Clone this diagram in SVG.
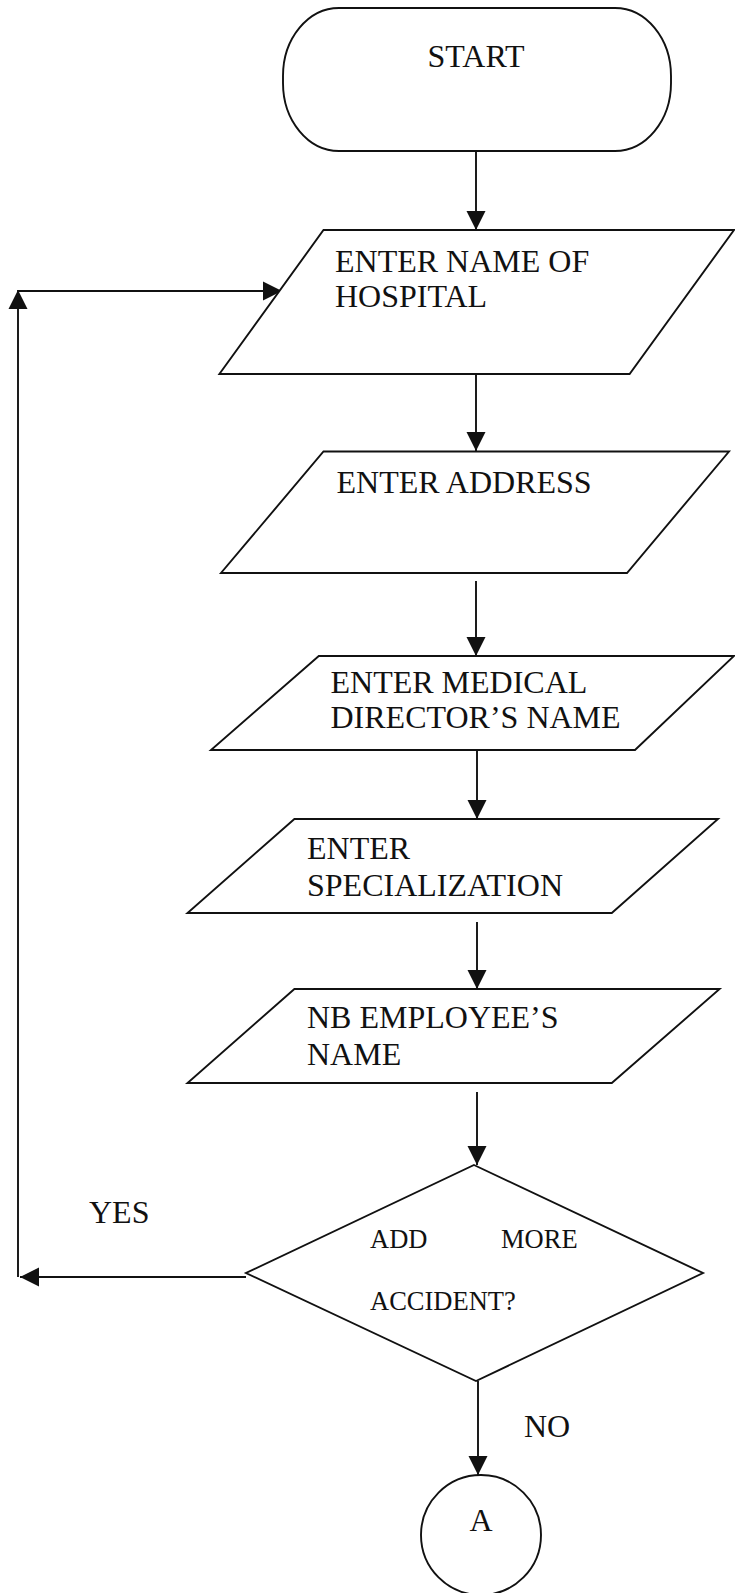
<svg xmlns="http://www.w3.org/2000/svg" width="735" height="1593" viewBox="0 0 735 1593">
<style>
.shape{fill:#fff;stroke:#111;stroke-width:1.9}
.conn{fill:none;stroke:#111;stroke-width:1.9}
.t{font-family:"Liberation Serif","Times New Roman",serif;font-size:32px;fill:#111}
.s{font-family:"Liberation Serif","Times New Roman",serif;font-size:26.5px;fill:#111}
</style>
<defs>
<marker id="arr" markerUnits="userSpaceOnUse" markerWidth="20" markerHeight="20" refX="19" refY="10" orient="auto">
<path d="M0,0.5 L19,10 L0,19.5 z" fill="#111"/>
</marker>
</defs>
<rect width="735" height="1593" fill="#fff"/>
<g id="connectors">
<path class="conn" d="M476,151 L476,230" marker-end="url(#arr)"/>
<path class="conn" d="M476,374 L476,451" marker-end="url(#arr)"/>
<path class="conn" d="M476,581 L476,656" marker-end="url(#arr)"/>
<path class="conn" d="M477,750 L477,819" marker-end="url(#arr)"/>
<path class="conn" d="M477,922 L477,989" marker-end="url(#arr)"/>
<path class="conn" d="M477,1092 L477,1165" marker-end="url(#arr)"/>
<path class="conn" d="M246,1277 L20,1277" marker-end="url(#arr)"/>
<path class="conn" d="M18,1277 L18,290" marker-end="url(#arr)"/>
<path class="conn" d="M18,291 L282,291" marker-end="url(#arr)"/>
<path class="conn" d="M478,1381 L478,1475" marker-end="url(#arr)"/>
<text class="t" x="89" y="1223" font-size="30">YES</text>
<text class="t" x="524" y="1437" font-size="31">NO</text>
</g>
<g id="start">
<rect class="shape" x="283" y="8" width="388" height="143" rx="56" ry="68"/>
<text class="t" x="476" y="67" text-anchor="middle">START</text>
</g>
<g id="hospital">
<polygon class="shape" points="323.5,230 734,230 629.6,374 219.4,374"/>
<text class="t" x="335" y="272">ENTER NAME OF</text>
<text class="t" x="335" y="307">HOSPITAL</text>
</g>
<g id="address">
<polygon class="shape" points="323.5,451.5 729,451.5 627,573 221,573"/>
<text class="t" x="336.5" y="493">ENTER ADDRESS</text>
</g>
<g id="director">
<polygon class="shape" points="318.8,656 734,656 635,750 211,750"/>
<text class="t" x="330.5" y="693">ENTER MEDICAL</text>
<text class="t" x="330.5" y="728">DIRECTOR’S NAME</text>
</g>
<g id="specialization">
<polygon class="shape" points="294.4,819 718,819 611.8,913 187.5,913"/>
<text class="t" x="307" y="859">ENTER</text>
<text class="t" x="307" y="896">SPECIALIZATION</text>
</g>
<g id="employee">
<polygon class="shape" points="294.4,989 719.6,989 611.8,1083 187.5,1083"/>
<text class="t" x="307" y="1028">NB EMPLOYEE’S</text>
<text class="t" x="307" y="1065">NAME</text>
</g>
<g id="decision">
<polygon class="shape" points="474,1165 703,1273 476,1381 246,1273"/>
<text class="s" x="370" y="1248">ADD</text>
<text class="s" x="501" y="1248">MORE</text>
<text class="s" x="370" y="1310">ACCIDENT?</text>
</g>
<g id="connectorA">
<circle class="shape" cx="481" cy="1535" r="60"/>
<text class="t" x="481" y="1531" text-anchor="middle" font-size="31">A</text>
</g>
</svg>
